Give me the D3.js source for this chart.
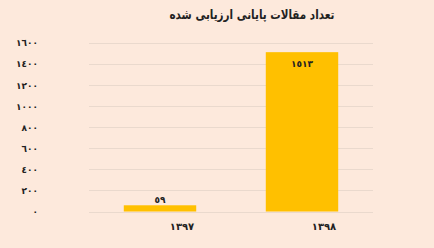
<!DOCTYPE html>
<html>
<head>
<meta charset="utf-8">
<script src="https://cdn.jsdelivr.net/npm/d3@7"></script>
<style>
  body { margin: 0; background: #fde9dc; }
  svg { display: block; }
</style>
</head>
<body>
<div id="container"></div>
<script>
/* DATA */
const years = ["1397", "1398"];
const counts = [59, 1513];
const yTicks = [0, 200, 400, 600, 800, 1000, 1200, 1400, 1600];
const title = "تعداد مقالات پایانی ارزیابی شده";

/* CONSTANTS */
const width = 434, height = 248;
const margin = {top: 43, bottom: 36.5, left: 89, right: 61};
const font = "'DejaVu Sans', sans-serif";

// western digits -> arabic-indic
const ar = s => String(s).replace(/[0-9]/g, d => String.fromCharCode(0x0660 + +d));

const svg = d3.select("#container")
  .append("svg")
  .attr("width", width)
  .attr("height", height)
  .style("background", "#fde9dc");

/* SCALES */
const xScale = d3.scaleBand()
  .domain(years)
  .range([margin.left, width - margin.right])
  .paddingInner(0.49)
  .paddingOuter(0.245);

const yScale = d3.scaleLinear()
  .domain([0, 1600])
  .range([height - margin.bottom, margin.top]);

// gridlines
svg.append("g")
  .selectAll("line")
  .data(yTicks)
  .join("line")
  .attr("x1", margin.left)
  .attr("x2", width - margin.right)
  .attr("y1", d => Math.round(yScale(d)) + 0.5)
  .attr("y2", d => Math.round(yScale(d)) + 0.5)
  .attr("stroke", "#ead9cd")
  .attr("stroke-width", 1);

// y axis labels
const yAxis = d3.axisLeft(yScale)
  .tickValues(yTicks)
  .tickSize(0)
  .tickPadding(0)
  .tickFormat(d => ar(d));

svg.append("g")
  .attr("transform", `translate(38,0)`)
  .call(yAxis)
  .call(g => g.select(".domain").remove())
  .selectAll("text")
  .attr("font-family", font)
  .attr("font-weight", "bold")
  .attr("font-size", 9)
  .attr("fill", "#222");

// bars
svg.selectAll("rect.bar")
  .data(counts)
  .join("rect")
  .attr("class", "bar")
  .attr("x", (d, i) => xScale(years[i]))
  .attr("width", xScale.bandwidth())
  .attr("y", d => yScale(d))
  .attr("height", d => yScale(0) - yScale(d))
  .attr("fill", "#ffc000");

// value labels
svg.selectAll("text.val")
  .data(counts)
  .join("text")
  .attr("class", "val")
  .attr("x", (d, i) => xScale(years[i]) + xScale.bandwidth() / 2)
  .attr("y", (d, i) => i === 0 ? yScale(d) - 2 : yScale(d) + 15)
  .attr("text-anchor", "middle")
  .attr("font-family", font)
  .attr("font-weight", "bold")
  .attr("font-size", 9)
  .attr("fill", "#222")
  .text(d => ar(d));

// x axis labels (offset to the right like the original)
svg.selectAll("text.year")
  .data(years)
  .join("text")
  .attr("class", "year")
  .attr("x", d => xScale(d) + xScale.bandwidth() / 2 + 22)
  .attr("y", 230)
  .attr("text-anchor", "middle")
  .attr("font-family", font)
  .attr("font-weight", "bold")
  .attr("font-size", 10)
  .attr("fill", "#222")
  .text(d => ar(d));

// title
svg.append("text")
  .attr("x", 252)
  .attr("y", 19)
  .attr("text-anchor", "middle")
  .attr("font-family", font)
  .attr("font-weight", "bold")
  .attr("font-size", 13)
  .attr("textLength", 165)
  .attr("lengthAdjust", "spacingAndGlyphs")
  .attr("fill", "#222")
  .text(title);
</script>
</body>
</html>
